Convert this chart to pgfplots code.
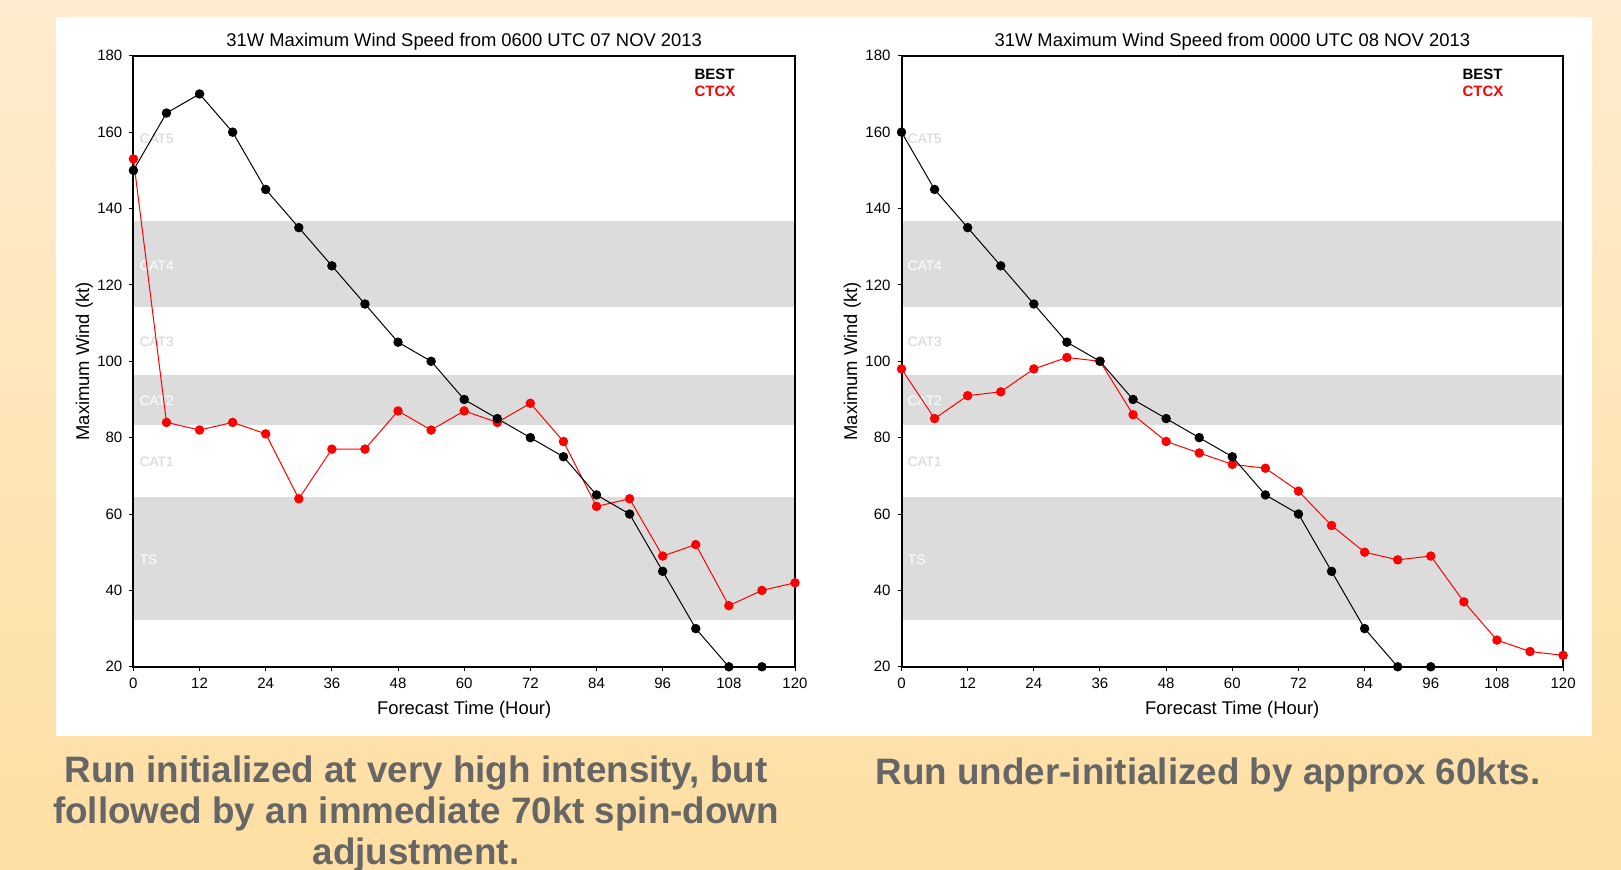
\documentclass[border=0pt]{standalone}
\usepackage{fontspec}
\setmainfont{Liberation Sans}
\usepackage{pgfplots}
\pgfplotsset{compat=1.18}

\definecolor{bgtop}{RGB}{255,236,206}
\definecolor{bgbot}{RGB}{254,223,163}
\definecolor{band}{RGB}{220,220,220}
\definecolor{catgray}{RGB}{212,212,212}
\definecolor{capgray}{RGB}{102,102,102}

\newcommand\tickfont{\fontsize{7.5}{8}\selectfont}
\newcommand\labfont{\fontsize{9.2}{10}\selectfont}
\newcommand\legfont{\fontsize{7.5}{8}\selectfont\bfseries}
\newcommand\catfont{\fontsize{6.8}{7}\selectfont}
\newcommand\capfont{\fontsize{18.4}{20}\selectfont\bfseries}

\pgfplotsset{
  wind/.style={
    anchor=south west, scale only axis, width=330.8pt, height=305.5pt,
    xmin=0, xmax=120, ymin=20, ymax=180,
    xtick={0,12,...,120}, ytick={20,40,...,180},
    xtick pos=lower, ytick pos=left, tick align=outside, major tick length=2pt,
    axis line style={line width=1pt}, tick style={black, line width=0.5pt},
    /pgf/number format/assume math mode=true,
    tick label style={font=\tickfont},
    every axis title/.style={at={(0.5,1)}, anchor=base, yshift=4.5pt, font=\labfont},
    every axis x label/.style={at={(axis description cs:0.5,0)}, anchor=base, yshift=-24pt, font=\labfont},
    every axis y label/.style={at={(axis description cs:-0.0671,0.5)}, rotate=90, anchor=base, font=\labfont},
    xlabel={Forecast Time (Hour)}, ylabel={Maximum Wind (kt)},
    clip=false,
  },
  best/.style={black, line width=0.5pt, mark=*, mark size=2.1pt},
  ctcx/.style={red, line width=0.5pt, mark=*, mark size=2.1pt},
}

% saffir-simpson bands and labels
\newcommand\cats{%
  \fill[band] (axis cs:0.18,32.3) rectangle (axis cs:119.82,64.5);
  \fill[band] (axis cs:0.18,83.2) rectangle (axis cs:119.82,96.5);
  \fill[band] (axis cs:0.18,114.2) rectangle (axis cs:119.82,136.7);
  \node[anchor=base west, inner sep=0, font=\catfont, text=catgray] at (axis cs:1.1,156.9) {CAT5};
  \node[anchor=base west, inner sep=0, font=\catfont, text=white] at (axis cs:1.1,123.7) {CAT4};
  \node[anchor=base west, inner sep=0, font=\catfont, text=catgray] at (axis cs:1.1,103.8) {CAT3};
  \node[anchor=base west, inner sep=0, font=\catfont, text=white] at (axis cs:1.1,88.3) {CAT2};
  \node[anchor=base west, inner sep=0, font=\catfont, text=catgray] at (axis cs:1.1,72.4) {CAT1};
  \node[anchor=base west, inner sep=0, font=\catfont, text=white] at (axis cs:1.1,46.7) {TS};
  \node[anchor=base west, inner sep=0, font=\legfont, text=black] at (axis cs:101.7,173.9) {BEST};
  \node[anchor=base west, inner sep=0, font=\legfont, text=red] at (axis cs:101.7,169.3) {CTCX};
}

\begin{document}
\begin{tikzpicture}
\useasboundingbox (0pt,0pt) rectangle (810.5pt,435pt);
\shade[top color=bgtop, bottom color=bgbot] (0pt,0pt) rectangle (810.5pt,435pt);
\fill[white] (28pt,67pt) rectangle (796pt,426.5pt);

\begin{axis}[wind, at={(66.7pt,101.6pt)},
  title={31W Maximum Wind Speed from 0600 UTC 07 NOV 2013}]
  \cats
  \addplot[ctcx] coordinates {
    (0,153) (6,84) (12,82) (18,84) (24,81) (30,64) (36,77) (42,77)
    (48,87) (54,82) (60,87) (66,84) (72,89) (78,79) (84,62) (90,64)
    (96,49) (102,52) (108,36) (114,40) (120,42)};
  \addplot[best] coordinates {
    (0,150) (6,165) (12,170) (18,160) (24,145) (30,135) (36,125) (42,115)
    (48,105) (54,100) (60,90) (66,85) (72,80) (78,75) (84,65) (90,60)
    (96,45) (102,30) (108,20) (114,20)};
\end{axis}

\begin{axis}[wind, at={(450.75pt,101.6pt)},
  title={31W Maximum Wind Speed from 0000 UTC 08 NOV 2013}]
  \cats
  \addplot[ctcx] coordinates {
    (0,98) (6,85) (12,91) (18,92) (24,98) (30,101) (36,100) (42,86)
    (48,79) (54,76) (60,73) (66,72) (72,66) (78,57) (84,50) (90,48)
    (96,49) (102,37) (108,27) (114,24) (120,23)};
  \addplot[best] coordinates {
    (0,160) (6,145) (12,135) (18,125) (24,115) (30,105) (36,100) (42,90)
    (48,85) (54,80) (60,75) (66,65) (72,60) (78,45) (84,30) (90,20)
    (96,20)};
\end{axis}

\node[anchor=base, font=\capfont, text=capgray] at (208pt,43.5pt) {Run initialized at very high intensity, but};
\node[anchor=base, font=\capfont, text=capgray] at (208pt,23pt) {followed by an immediate 70kt spin-down};
\node[anchor=base, font=\capfont, text=capgray] at (208pt,2.5pt) {adjustment.};
\node[anchor=base, font=\capfont, text=capgray] at (604pt,42.5pt) {Run under-initialized by approx 60kts.};
\end{tikzpicture}
\end{document}
